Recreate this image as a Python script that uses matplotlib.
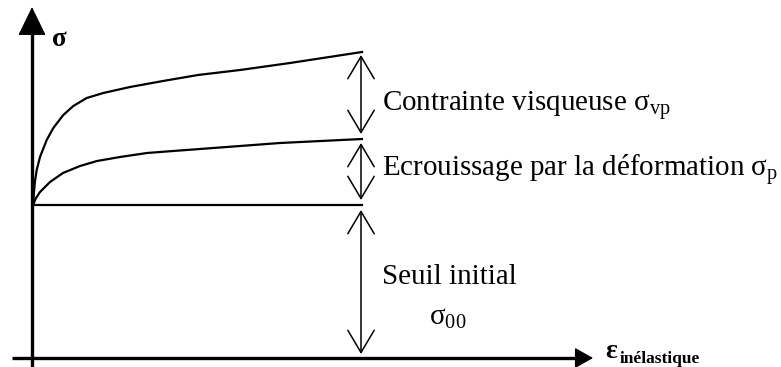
import matplotlib
matplotlib.use("Agg")
import matplotlib.pyplot as plt

plt.rcParams['mathtext.fontset'] = 'custom'
plt.rcParams['mathtext.rm'] = 'Liberation Serif'
plt.rcParams['mathtext.it'] = 'Liberation Serif:italic'
plt.rcParams['mathtext.bf'] = 'Liberation Serif:bold'

# ---- data (schematic units: strain along x, stress along y) ----
strain_visc = [0, 1, 2, 3.7, 7, 13.7, 20.3, 30.3, 40.3, 53.7, 70.3, 97, 130, 165, 207, 257, 329]
stress_visc = [153, 166, 177, 188, 201, 218, 230, 243, 252, 260, 265, 271, 277, 283, 288, 295, 306]

strain_hard = [0, 3, 7, 12, 17, 30, 47, 64, 87, 114, 140, 167, 247, 329]
stress_hard = [153, 160, 166, 171, 176, 185, 192, 197, 201, 205, 207, 209, 215, 219]

sigma00 = 153
strain_end = 329

labels = {
    'vp': 'Contrainte visqueuse $\\mathrm{\\sigma_{vp}}$',
    'p': 'Ecrouissage par la déformation $\\mathrm{\\sigma_{p}}$',
    's00a': 'Seuil initial',
    's00b': '$\\mathrm{\\sigma_{00}}$',
}

fig = plt.figure(figsize=(7.81, 3.67), dpi=100)
ax = fig.add_axes([0, 0, 1, 1])
ax.set_xlim(-33, 748)
ax.set_ylim(-9, 358)
ax.axis('off')

# axes lines with filled arrowheads
ax.plot([-21, 545], [0, 0], color='black', lw=2.4, solid_capstyle='butt')
ax.plot([-1, -1], [-9, 330], color='black', lw=2.4, solid_capstyle='butt')
ax.annotate('', xy=(560, 0), xytext=(540, 0),
            arrowprops=dict(arrowstyle='-|>,head_length=1.15,head_width=0.65',
                            mutation_scale=10, color='black', lw=1,
                            shrinkA=0, shrinkB=0))
ax.annotate('', xy=(-1, 351), xytext=(-1, 320),
            arrowprops=dict(arrowstyle='-|>,head_length=1.85,head_width=0.9',
                            mutation_scale=10, color='black', lw=1,
                            shrinkA=0, shrinkB=0))

# curves
ax.plot(strain_visc, stress_visc, color='black', lw=1.6)
ax.plot(strain_hard, stress_hard, color='black', lw=1.6)
ax.plot([0, strain_end], [sigma00, sigma00], color='black', lw=1.6)

# double arrows
xa = strain_end - 1
def darrow(y0, y1):
    ax.annotate('', xy=(xa, y1), xytext=(xa, y0),
                arrowprops=dict(arrowstyle='<->,head_length=1.6,head_width=0.95',
                                mutation_scale=10, color='black', lw=1.1,
                                shrinkA=0, shrinkB=0))

darrow(224, 303)
darrow(158, 215)
darrow(4, 148)

serif = 'Liberation Serif'
fs = 20.9
ax.text(349, 253, labels['vp'], fontsize=fs, family=serif, va='center', ha='left')
ax.text(349, 187, labels['p'], fontsize=fs, family=serif, va='center', ha='left')
ax.text(349, 81, labels['s00a'], fontsize=fs, family=serif, va='center', ha='left')
ax.text(396, 40, labels['s00b'], fontsize=fs, family=serif, va='center', ha='left')

ax.text(19, 319, 'σ', fontsize=19.5, family=serif, fontweight='bold', va='center', ha='left')
ax.text(572, 6, 'ε', fontsize=20, family=serif, fontweight='bold', va='center', ha='left')
ax.text(587, -1, 'inélastique', fontsize=12.5, family=serif, fontweight='bold', va='center', ha='left')

fig.savefig('out.png', dpi=100)
